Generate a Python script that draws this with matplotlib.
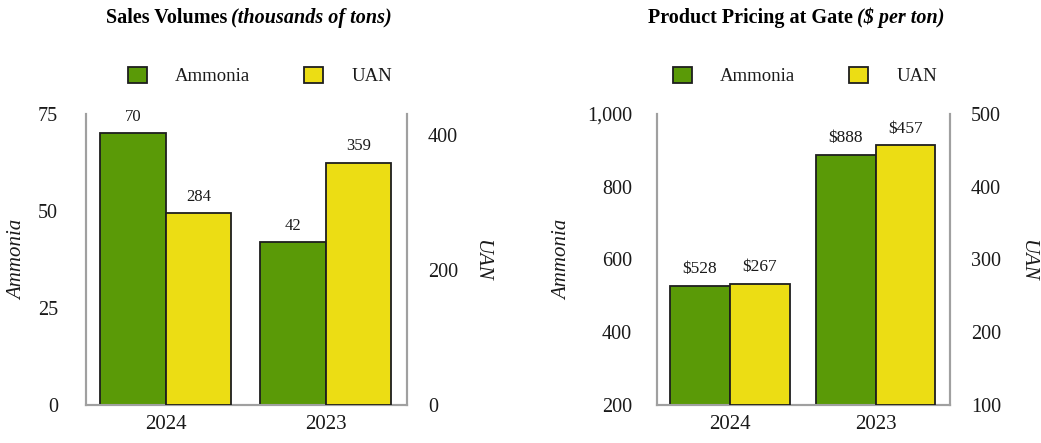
import numpy as np
import matplotlib
matplotlib.use('Agg')
import matplotlib.pyplot as plt
from matplotlib.patches import Patch

plt.rcParams['font.family'] = ['Liberation Serif', 'DejaVu Serif']

# Data
years = ['2024', '2023']
volume_ammonia = [70, 42]
volume_uan = [284, 359]
price_ammonia = [528, 888]
price_uan = [267, 457]

GREEN = '#5a9a07'
YELLOW = '#ecdd14'
EDGE = '#1e1e1e'
SPINE = '#a0a0a0'
TEXT = '#1a1a1a'

W, H = 1041, 443
fig = plt.figure(figsize=(W / 100, H / 100), dpi=100)


def px_box(x0, x1, ytop, ybot):
    return [x0 / W, (H - ybot) / H, (x1 - x0) / W, (ybot - ytop) / H]


def draw_panel(rect, amm, uan, ylim_l, ylim_r, ticks_l, ticks_r, fmt_l, fmt_r,
               lab_fmt, lpad, rpad, labsize):
    ax = fig.add_axes(rect)
    ax2 = ax.twinx()
    x = np.arange(len(years))
    w = 0.41
    b1 = ax.bar(x - w / 2, np.array(amm) - ylim_l[0], w, bottom=ylim_l[0],
                color=GREEN, edgecolor=EDGE, linewidth=1.3, zorder=3)
    b2 = ax2.bar(x + w / 2, np.array(uan) - ylim_r[0], w, bottom=ylim_r[0],
                 color=YELLOW, edgecolor=EDGE, linewidth=1.3, zorder=3)
    ax.set_xlim(-0.5, 1.51)
    ax.set_ylim(*ylim_l)
    ax2.set_ylim(*ylim_r)
    ax.set_yticks(ticks_l)
    ax.set_yticklabels([fmt_l(t) for t in ticks_l])
    ax2.set_yticks(ticks_r)
    ax2.set_yticklabels([fmt_r(t) for t in ticks_r])
    ax.set_xticks(x)
    ax.set_xticklabels(years)
    ax.tick_params(axis='x', length=0, pad=7, labelsize=15, colors=TEXT)
    ax.tick_params(axis='y', length=0, pad=lpad, labelsize=14.5, colors=TEXT)
    ax2.tick_params(axis='y', length=0, pad=rpad, labelsize=14.5, colors=TEXT)
    for a in (ax, ax2):
        a.spines['top'].set_visible(False)
        for s in ('left', 'right', 'bottom'):
            a.spines[s].set_color(SPINE)
            a.spines[s].set_linewidth(1.5)
    for rect_, v in zip(b1, amm):
        ax.annotate(lab_fmt(v), (rect_.get_x() + rect_.get_width() / 2, v),
                    xytext=(0, 6), textcoords='offset points', ha='center',
                    va='bottom', fontsize=labsize, color=TEXT)
    for rect_, v in zip(b2, uan):
        ax2.annotate(lab_fmt(v), (rect_.get_x() + rect_.get_width() / 2, v),
                     xytext=(0, 6), textcoords='offset points', ha='center',
                     va='bottom', fontsize=labsize, color=TEXT)
    return ax, ax2


# Sales volumes panel
draw_panel(px_box(86, 407, 114, 405), volume_ammonia, volume_uan,
           (0, 75), (0, 431), [0, 25, 50, 75], [0, 200, 400],
           lambda t: f'{t:d}', lambda t: f'{t:d}', lambda v: f'{v}', 20, 15, 12)

# Pricing panel
draw_panel(px_box(657, 950, 114, 405), price_ammonia, price_uan,
           (200, 1000), (100, 500), [200, 400, 600, 800, 1000],
           [100, 200, 300, 400, 500],
           lambda t: f'{t:,d}', lambda t: f'{t:d}', lambda v: f'${v}', 18, 15, 12.5)


# Titles
def title(xsplit, bold_part, ital_part):
    fig.text((xsplit - 2) / W, 1 - 18 / H, bold_part, ha='right', va='center',
             fontsize=14.5, fontweight='bold', color='black')
    fig.text((xsplit + 2) / W, 1 - 18 / H, ital_part, ha='left', va='center',
             fontsize=14.5, fontweight='bold', fontstyle='italic', color='black')


title(229, 'Sales Volumes', '(thousands of tons)')
title(855, 'Product Pricing at Gate', '($ per ton)')

# Axis labels
for xp, txt, rot in [(18, 'Ammonia', 90), (482, 'UAN', 270),
                     (563, 'Ammonia', 90), (1028, 'UAN', 270)]:
    fig.text(xp / W, 1 - 260 / H, txt, rotation=rot, ha='center', va='center',
             fontsize=15, fontstyle='italic', color=TEXT)

# Legends
handles = [Patch(facecolor=GREEN, edgecolor=EDGE, linewidth=1.3, label='Ammonia'),
           Patch(facecolor=YELLOW, edgecolor=EDGE, linewidth=1.3, label='UAN')]
for xc in (260, 805):
    fig.legend(handles=handles, loc='center', bbox_to_anchor=(xc / W, 1 - 76 / H),
               ncol=2, frameon=False, fontsize=13.5, handlelength=1.0,
               handleheight=1.0, handletextpad=1.5, columnspacing=2.9,
               labelcolor=TEXT)

fig.savefig('out.png', dpi=100)
